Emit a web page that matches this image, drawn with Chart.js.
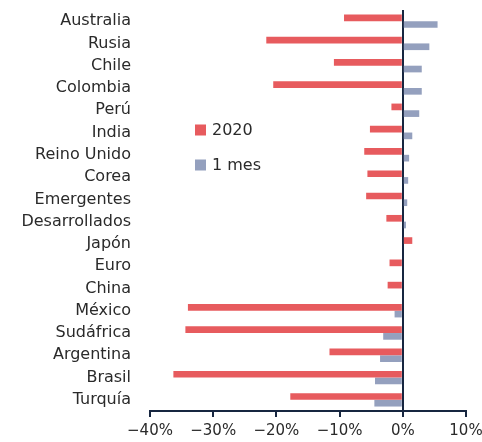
<!DOCTYPE html>
<html>
<head>
<meta charset="utf-8">
<script src="https://cdn.jsdelivr.net/npm/chart.js@4"></script>
<style>
  html, body { margin: 0; padding: 0; background: #fff; }
  #wrap { width: 482px; height: 442px; }
</style>
</head>
<body>
<div id="wrap"><canvas id="chart" width="482" height="442"></canvas></div>
<script>
// Data (% change)
const countries = ['Australia', 'Rusia', 'Chile', 'Colombia', 'Perú', 'India', 'Reino Unido',
    'Corea', 'Emergentes', 'Desarrollados', 'Japón', 'Euro', 'China', 'México', 'Sudáfrica',
    'Argentina', 'Brasil', 'Turquía'];
const ytd2020 = [-9.3, -21.6, -10.9, -20.5, -1.8, -5.2, -6.1, -5.6, -5.8, -2.6, 1.5, -2.1, -2.4,
    -34.0, -34.4, -11.6, -36.3, -17.8];
const oneMonth = [5.5, 4.2, 3.0, 3.0, 2.6, 1.5, 1.0, 0.85, 0.7, 0.5, 0, 0, 0,
    -1.3, -3.1, -3.6, -4.4, -4.5];
const seriesNames = ['2020', '1 mes'];
const xTicks = [-40, -30, -20, -10, 0, 10];

const RED = '#e75b5e';
const BLUE = '#94a0be';
const NAVY = '#172640';
const TEXT = '#2a2a2a';
const FONT = "'DejaVu Sans', sans-serif";

// Legend sits inside the plot, left of the bars
const innerLegend = {
    id: 'innerLegend',
    afterDraw(chart) {
        const ctx = chart.ctx;
        const items = [
            { label: seriesNames[0], color: RED, y: 130 },
            { label: seriesNames[1], color: BLUE, y: 165 }
        ];
        ctx.save();
        ctx.font = '16px ' + FONT;
        ctx.textBaseline = 'middle';
        items.forEach(it => {
            ctx.fillStyle = it.color;
            ctx.fillRect(195, it.y - 5.5, 11, 11);
            ctx.fillStyle = TEXT;
            ctx.fillText(it.label, 212, it.y + 1);
        });
        ctx.restore();
    }
};

new Chart(document.getElementById('chart'), {
    type: 'bar',
    data: {
        labels: countries,
        datasets: [
            {
                label: seriesNames[0],
                data: ytd2020,
                backgroundColor: RED,
                categoryPercentage: 0.6,
                barPercentage: 1.0
            },
            {
                label: seriesNames[1],
                data: oneMonth,
                backgroundColor: BLUE,
                categoryPercentage: 0.6,
                barPercentage: 1.0
            }
        ]
    },
    options: {
        indexAxis: 'y',
        responsive: false,
        animation: false,
        layout: { padding: { top: 10, right: 0, left: 0, bottom: 0 } },
        plugins: {
            legend: { display: false },
            tooltip: { enabled: false }
        },
        scales: {
            x: {
                min: -40,
                max: 10,
                afterBuildTicks(scale) {
                    scale.ticks = xTicks.map(v => ({ value: v }));
                },
                afterFit(scale) {
                    scale.height = 31;
                    // let the 10% label run to the canvas edge, like the original
                    scale.paddingRight = 16;
                    scale.paddingLeft = 0;
                },
                border: { display: true, color: NAVY, width: 2 },
                grid: {
                    drawOnChartArea: true,
                    color: c => (c.tick && c.tick.value === 0 ? NAVY : 'rgba(0,0,0,0)'),
                    lineWidth: 2,
                    tickColor: NAVY,
                    tickLength: 6
                },
                ticks: {
                    color: TEXT,
                    padding: 5,
                    font: { family: FONT, size: 15 },
                    callback: v => (v < 0 ? '\u2212' + Math.abs(v) : v) + '%'
                }
            },
            y: {
                afterFit(scale) {
                    scale.width = 150;
                    // the label padding should not push the plot down
                    scale.paddingTop = 0;
                    scale.paddingBottom = 0;
                },
                border: { display: false },
                grid: { display: false },
                ticks: {
                    color: TEXT,
                    padding: 11,
                    autoSkip: false,
                    font: { family: FONT, size: 16 }
                }
            }
        }
    },
    plugins: [innerLegend]
});
</script>
</body>
</html>
